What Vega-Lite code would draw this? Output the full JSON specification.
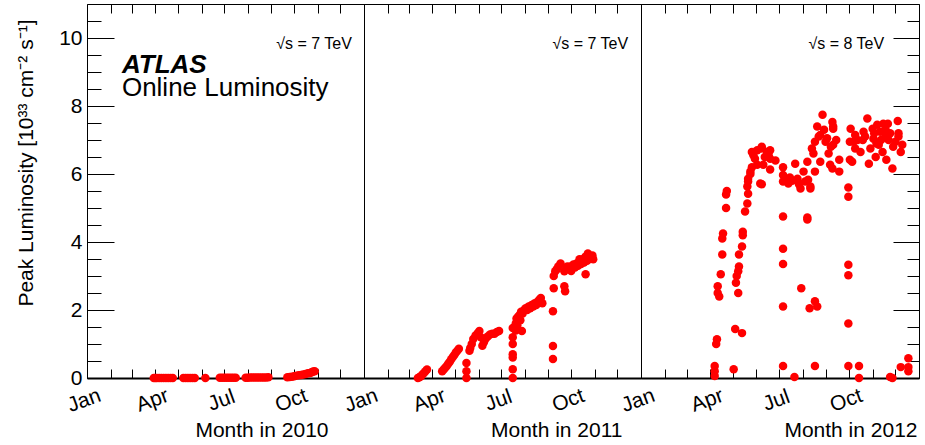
{
  "$schema": "https://vega.github.io/schema/vega-lite/v6.json",
  "background": "white",
  "padding": {"left": 15, "top": 3, "right": 6, "bottom": 2},
  "bounds": "flush",
  "spacing": 0,
  "config": {
    "view": {"stroke": "black", "strokeWidth": 1},
    "font": "Liberation Sans",
    "axis": {"labelFont": "Liberation Sans", "labelFontSize": 21, "labelColor": "black", "titleFont": "Liberation Sans", "titleFontSize": 21, "titleFontWeight": "normal", "titleColor": "black", "tickColor": "black", "domainColor": "black", "grid": false},
    "concat": {"spacing": 0}
  },
  "datasets": {
    "y2010": [
      {"date": "2010-03-30", "lumi": 0}, {"date": "2010-04-01", "lumi": 0}, {"date": "2010-04-03", "lumi": 0}, {"date": "2010-04-06", "lumi": 0}, {"date": "2010-04-09", "lumi": 0}, {"date": "2010-04-12", "lumi": 0}, {"date": "2010-04-15", "lumi": 0}, {"date": "2010-04-18", "lumi": 0}, {"date": "2010-04-21", "lumi": 0}, {"date": "2010-04-24", "lumi": 0},
      {"date": "2010-05-08", "lumi": 0}, {"date": "2010-05-11", "lumi": 0}, {"date": "2010-05-14", "lumi": 0}, {"date": "2010-05-17", "lumi": 0}, {"date": "2010-05-20", "lumi": 0}, {"date": "2010-05-23", "lumi": 0},
      {"date": "2010-06-06", "lumi": 0.001},
      {"date": "2010-06-25", "lumi": 0.005}, {"date": "2010-06-28", "lumi": 0.005}, {"date": "2010-07-01", "lumi": 0.006}, {"date": "2010-07-04", "lumi": 0.007}, {"date": "2010-07-07", "lumi": 0.008}, {"date": "2010-07-10", "lumi": 0.008}, {"date": "2010-07-13", "lumi": 0.01}, {"date": "2010-07-16", "lumi": 0.01},
      {"date": "2010-07-29", "lumi": 0.01}, {"date": "2010-08-01", "lumi": 0.01}, {"date": "2010-08-04", "lumi": 0.012}, {"date": "2010-08-07", "lumi": 0.012}, {"date": "2010-08-10", "lumi": 0.015}, {"date": "2010-08-13", "lumi": 0.015}, {"date": "2010-08-16", "lumi": 0.015}, {"date": "2010-08-19", "lumi": 0.016}, {"date": "2010-08-22", "lumi": 0.017}, {"date": "2010-08-25", "lumi": 0.018}, {"date": "2010-08-28", "lumi": 0.02},
      {"date": "2010-09-22", "lumi": 0.02}, {"date": "2010-09-25", "lumi": 0.03}, {"date": "2010-09-28", "lumi": 0.04}, {"date": "2010-10-01", "lumi": 0.05}, {"date": "2010-10-04", "lumi": 0.07}, {"date": "2010-10-07", "lumi": 0.08}, {"date": "2010-10-10", "lumi": 0.09}, {"date": "2010-10-13", "lumi": 0.1}, {"date": "2010-10-16", "lumi": 0.12}, {"date": "2010-10-19", "lumi": 0.14}, {"date": "2010-10-22", "lumi": 0.15}, {"date": "2010-10-24", "lumi": 0.17}, {"date": "2010-10-26", "lumi": 0.19}, {"date": "2010-10-28", "lumi": 0.2}
    ],
    "y2011": [
      {"date": "2011-03-13", "lumi": 0.0}, {"date": "2011-03-15", "lumi": 0.02}, {"date": "2011-03-17", "lumi": 0.05}, {"date": "2011-03-19", "lumi": 0.1}, {"date": "2011-03-21", "lumi": 0.15}, {"date": "2011-03-23", "lumi": 0.2}, {"date": "2011-03-25", "lumi": 0.25},
      {"date": "2011-04-14", "lumi": 0.2}, {"date": "2011-04-16", "lumi": 0.25}, {"date": "2011-04-18", "lumi": 0.3}, {"date": "2011-04-20", "lumi": 0.35}, {"date": "2011-04-22", "lumi": 0.42}, {"date": "2011-04-24", "lumi": 0.48}, {"date": "2011-04-26", "lumi": 0.55}, {"date": "2011-04-28", "lumi": 0.62}, {"date": "2011-04-30", "lumi": 0.68}, {"date": "2011-05-02", "lumi": 0.75}, {"date": "2011-05-04", "lumi": 0.8}, {"date": "2011-05-06", "lumi": 0.86},
      {"date": "2011-05-16", "lumi": 0.0}, {"date": "2011-05-16", "lumi": 0.2}, {"date": "2011-05-16", "lumi": 0.44},
      {"date": "2011-05-20", "lumi": 0.8}, {"date": "2011-05-21", "lumi": 0.88}, {"date": "2011-05-23", "lumi": 1.0}, {"date": "2011-05-25", "lumi": 1.15}, {"date": "2011-05-28", "lumi": 1.25}, {"date": "2011-05-31", "lumi": 1.32}, {"date": "2011-06-02", "lumi": 1.38}, {"date": "2011-06-04", "lumi": 1.2}, {"date": "2011-06-06", "lumi": 0.95}, {"date": "2011-06-08", "lumi": 1.05}, {"date": "2011-06-10", "lumi": 1.15}, {"date": "2011-06-13", "lumi": 1.22}, {"date": "2011-06-16", "lumi": 1.28}, {"date": "2011-06-19", "lumi": 1.3}, {"date": "2011-06-22", "lumi": 1.3}, {"date": "2011-06-25", "lumi": 1.35}, {"date": "2011-06-28", "lumi": 1.38},
      {"date": "2011-07-16", "lumi": 0.0}, {"date": "2011-07-16", "lumi": 0.26}, {"date": "2011-07-16", "lumi": 0.6}, {"date": "2011-07-16", "lumi": 0.7}, {"date": "2011-07-16", "lumi": 1.0}, {"date": "2011-07-16", "lumi": 1.2}, {"date": "2011-07-16", "lumi": 1.47},
      {"date": "2011-07-20", "lumi": 1.4}, {"date": "2011-07-20", "lumi": 1.6}, {"date": "2011-07-21", "lumi": 1.75}, {"date": "2011-07-22", "lumi": 1.55}, {"date": "2011-07-23", "lumi": 1.8}, {"date": "2011-07-25", "lumi": 1.85}, {"date": "2011-07-26", "lumi": 1.7}, {"date": "2011-07-27", "lumi": 1.95}, {"date": "2011-07-28", "lumi": 1.38}, {"date": "2011-07-29", "lumi": 1.9}, {"date": "2011-07-31", "lumi": 2.0}, {"date": "2011-08-02", "lumi": 2.05}, {"date": "2011-08-04", "lumi": 2.0}, {"date": "2011-08-06", "lumi": 2.1}, {"date": "2011-08-08", "lumi": 2.05}, {"date": "2011-08-10", "lumi": 2.15}, {"date": "2011-08-12", "lumi": 2.1}, {"date": "2011-08-14", "lumi": 2.2}, {"date": "2011-08-16", "lumi": 2.15}, {"date": "2011-08-18", "lumi": 2.25}, {"date": "2011-08-20", "lumi": 2.3}, {"date": "2011-08-22", "lumi": 2.35}, {"date": "2011-08-24", "lumi": 2.2},
      {"date": "2011-09-07", "lumi": 0.56}, {"date": "2011-09-07", "lumi": 0.94}, {"date": "2011-09-07", "lumi": 1.96}, {"date": "2011-09-08", "lumi": 2.64}, {"date": "2011-09-08", "lumi": 3.0},
      {"date": "2011-09-10", "lumi": 3.14}, {"date": "2011-09-12", "lumi": 3.2}, {"date": "2011-09-14", "lumi": 3.28}, {"date": "2011-09-17", "lumi": 3.37}, {"date": "2011-09-22", "lumi": 2.7}, {"date": "2011-09-23", "lumi": 2.55}, {"date": "2011-09-22", "lumi": 3.14}, {"date": "2011-09-24", "lumi": 3.2}, {"date": "2011-09-26", "lumi": 3.28}, {"date": "2011-09-30", "lumi": 3.28}, {"date": "2011-10-01", "lumi": 3.15}, {"date": "2011-10-04", "lumi": 3.34}, {"date": "2011-10-06", "lumi": 3.25}, {"date": "2011-10-08", "lumi": 3.37}, {"date": "2011-10-10", "lumi": 3.3}, {"date": "2011-10-12", "lumi": 3.49}, {"date": "2011-10-14", "lumi": 3.35}, {"date": "2011-10-16", "lumi": 3.49}, {"date": "2011-10-18", "lumi": 3.4}, {"date": "2011-10-20", "lumi": 3.05}, {"date": "2011-10-20", "lumi": 3.57}, {"date": "2011-10-22", "lumi": 3.45}, {"date": "2011-10-23", "lumi": 3.66}, {"date": "2011-10-25", "lumi": 3.5}, {"date": "2011-10-27", "lumi": 3.57}, {"date": "2011-10-29", "lumi": 3.6}, {"date": "2011-10-30", "lumi": 3.49}
    ],
    "y2012": [
      {"date": "2012-04-07", "lumi": 0.06}, {"date": "2012-04-07", "lumi": 0.2}, {"date": "2012-04-07", "lumi": 0.35}, {"date": "2012-04-09", "lumi": 1.0}, {"date": "2012-04-10", "lumi": 1.14}, {"date": "2012-04-11", "lumi": 2.7}, {"date": "2012-04-11", "lumi": 2.5}, {"date": "2012-04-13", "lumi": 2.4}, {"date": "2012-04-15", "lumi": 3.05}, {"date": "2012-04-17", "lumi": 3.63}, {"date": "2012-04-17", "lumi": 4.1}, {"date": "2012-04-18", "lumi": 4.25}, {"date": "2012-04-22", "lumi": 5.0}, {"date": "2012-04-22", "lumi": 5.4}, {"date": "2012-04-23", "lumi": 5.5},
      {"date": "2012-05-02", "lumi": 0.26}, {"date": "2012-05-04", "lumi": 1.44}, {"date": "2012-05-13", "lumi": 1.32}, {"date": "2012-05-05", "lumi": 2.8}, {"date": "2012-05-06", "lumi": 3.0}, {"date": "2012-05-08", "lumi": 3.14}, {"date": "2012-05-08", "lumi": 2.5}, {"date": "2012-05-09", "lumi": 3.28}, {"date": "2012-05-09", "lumi": 3.63}, {"date": "2012-05-13", "lumi": 3.87}, {"date": "2012-05-14", "lumi": 4.2}, {"date": "2012-05-14", "lumi": 4.3}, {"date": "2012-05-17", "lumi": 4.9}, {"date": "2012-05-20", "lumi": 5.13}, {"date": "2012-05-20", "lumi": 5.63}, {"date": "2012-05-21", "lumi": 5.42}, {"date": "2012-05-21", "lumi": 5.78}, {"date": "2012-05-21", "lumi": 5.86}, {"date": "2012-05-24", "lumi": 6.0}, {"date": "2012-05-24", "lumi": 6.07}, {"date": "2012-05-26", "lumi": 6.2}, {"date": "2012-05-26", "lumi": 6.65}, {"date": "2012-05-28", "lumi": 6.55}, {"date": "2012-05-30", "lumi": 6.45},
      {"date": "2012-06-02", "lumi": 6.7}, {"date": "2012-06-02", "lumi": 6.27}, {"date": "2012-06-06", "lumi": 5.72}, {"date": "2012-06-08", "lumi": 6.8}, {"date": "2012-06-08", "lumi": 6.75}, {"date": "2012-06-08", "lumi": 5.7}, {"date": "2012-06-10", "lumi": 6.27}, {"date": "2012-06-12", "lumi": 6.5}, {"date": "2012-06-15", "lumi": 6.65}, {"date": "2012-06-17", "lumi": 6.55}, {"date": "2012-06-19", "lumi": 6.13}, {"date": "2012-06-19", "lumi": 6.45}, {"date": "2012-06-19", "lumi": 6.7}, {"date": "2012-06-26", "lumi": 6.4},
      {"date": "2012-07-06", "lumi": 6.2}, {"date": "2012-07-06", "lumi": 5.97}, {"date": "2012-07-06", "lumi": 5.78}, {"date": "2012-07-06", "lumi": 4.75}, {"date": "2012-07-06", "lumi": 3.8}, {"date": "2012-07-06", "lumi": 3.35}, {"date": "2012-07-06", "lumi": 2.1}, {"date": "2012-07-06", "lumi": 0.35}, {"date": "2012-07-09", "lumi": 5.86}, {"date": "2012-07-13", "lumi": 5.72}, {"date": "2012-07-15", "lumi": 5.9}, {"date": "2012-07-18", "lumi": 5.8}, {"date": "2012-07-21", "lumi": 0.03}, {"date": "2012-07-22", "lumi": 6.3}, {"date": "2012-07-25", "lumi": 5.86}, {"date": "2012-07-27", "lumi": 5.7}, {"date": "2012-07-29", "lumi": 5.57}, {"date": "2012-07-30", "lumi": 2.64},
      {"date": "2012-08-02", "lumi": 6.07}, {"date": "2012-08-04", "lumi": 5.78}, {"date": "2012-08-07", "lumi": 6.36}, {"date": "2012-08-07", "lumi": 4.66}, {"date": "2012-08-07", "lumi": 4.72}, {"date": "2012-08-08", "lumi": 5.83}, {"date": "2012-08-10", "lumi": 2.05}, {"date": "2012-08-11", "lumi": 5.57}, {"date": "2012-08-11", "lumi": 5.63}, {"date": "2012-08-13", "lumi": 6.75}, {"date": "2012-08-15", "lumi": 6.6}, {"date": "2012-08-17", "lumi": 6.95}, {"date": "2012-08-17", "lumi": 6.07}, {"date": "2012-08-17", "lumi": 2.26}, {"date": "2012-08-17", "lumi": 0.35}, {"date": "2012-08-20", "lumi": 7.4}, {"date": "2012-08-20", "lumi": 2.1}, {"date": "2012-08-22", "lumi": 7.1}, {"date": "2012-08-24", "lumi": 7.15}, {"date": "2012-08-24", "lumi": 6.36}, {"date": "2012-08-27", "lumi": 7.74}, {"date": "2012-08-29", "lumi": 7.3}, {"date": "2012-08-31", "lumi": 6.95},
      {"date": "2012-09-02", "lumi": 7.05}, {"date": "2012-09-04", "lumi": 6.6}, {"date": "2012-09-06", "lumi": 6.27}, {"date": "2012-09-07", "lumi": 6.8}, {"date": "2012-09-09", "lumi": 7.53}, {"date": "2012-09-09", "lumi": 6.16}, {"date": "2012-09-10", "lumi": 7.4}, {"date": "2012-09-10", "lumi": 6.86}, {"date": "2012-09-10", "lumi": 7.33}, {"date": "2012-09-14", "lumi": 7.0}, {"date": "2012-09-18", "lumi": 6.42}, {"date": "2012-09-18", "lumi": 6.07},
      {"date": "2012-09-30", "lumi": 0.35}, {"date": "2012-09-30", "lumi": 1.6}, {"date": "2012-09-30", "lumi": 3.02}, {"date": "2012-09-30", "lumi": 3.33}, {"date": "2012-09-30", "lumi": 5.33}, {"date": "2012-09-30", "lumi": 5.6},
      {"date": "2012-10-02", "lumi": 6.42}, {"date": "2012-10-02", "lumi": 6.95}, {"date": "2012-10-03", "lumi": 7.33}, {"date": "2012-10-05", "lumi": 6.36}, {"date": "2012-10-07", "lumi": 6.95}, {"date": "2012-10-09", "lumi": 7.15}, {"date": "2012-10-09", "lumi": 6.75}, {"date": "2012-10-12", "lumi": 7.0}, {"date": "2012-10-14", "lumi": 0.35}, {"date": "2012-10-14", "lumi": 0.0}, {"date": "2012-10-16", "lumi": 6.65}, {"date": "2012-10-19", "lumi": 7.0}, {"date": "2012-10-20", "lumi": 7.24}, {"date": "2012-10-22", "lumi": 7.1}, {"date": "2012-10-25", "lumi": 7.63}, {"date": "2012-10-27", "lumi": 6.3}, {"date": "2012-10-29", "lumi": 6.75},
      {"date": "2012-11-01", "lumi": 7.33}, {"date": "2012-11-02", "lumi": 7.04}, {"date": "2012-11-03", "lumi": 7.2}, {"date": "2012-11-05", "lumi": 6.5}, {"date": "2012-11-06", "lumi": 6.9}, {"date": "2012-11-07", "lumi": 7.45}, {"date": "2012-11-09", "lumi": 6.86}, {"date": "2012-11-11", "lumi": 7.24}, {"date": "2012-11-12", "lumi": 7.0}, {"date": "2012-11-14", "lumi": 6.65}, {"date": "2012-11-15", "lumi": 7.48}, {"date": "2012-11-18", "lumi": 7.15}, {"date": "2012-11-18", "lumi": 7.3}, {"date": "2012-11-19", "lumi": 6.42}, {"date": "2012-11-21", "lumi": 7.48}, {"date": "2012-11-22", "lumi": 7.0}, {"date": "2012-11-24", "lumi": 7.2}, {"date": "2012-11-24", "lumi": 0.03}, {"date": "2012-11-27", "lumi": 6.16}, {"date": "2012-11-27", "lumi": 0.0}, {"date": "2012-11-28", "lumi": 6.8},
      {"date": "2012-12-01", "lumi": 6.95}, {"date": "2012-12-04", "lumi": 7.56}, {"date": "2012-12-05", "lumi": 7.1}, {"date": "2012-12-05", "lumi": 7.2}, {"date": "2012-12-08", "lumi": 6.65}, {"date": "2012-12-08", "lumi": 0.32}, {"date": "2012-12-10", "lumi": 6.86}, {"date": "2012-12-18", "lumi": 0.58}, {"date": "2012-12-18", "lumi": 0.32}, {"date": "2012-12-18", "lumi": 0.2}
    ]
  },
  "hconcat": [
    {
      "width": 277, "height": 374,
      "layer": [
        {
          "data": {"name": "y2010"},
          "mark": {"type": "point", "filled": true, "size": 72, "color": "#ff0000", "opacity": 1},
          "encoding": {
            "x": {"field": "date", "type": "temporal",
              "scale": {"type": "utc", "domain": [{"year": 2010, "month": 1, "date": 1, "utc": true}, {"year": 2011, "month": 1, "date": 1, "utc": true}]},
              "axis": {"orient": "bottom", "tickCount": {"interval": "month", "step": 1},
                "labelExpr": "utcmonth(datum.value) % 3 === 0 && utcyear(datum.value) === 2010 ? utcFormat(datum.value, '%b') : ''",
                "labelAngle": -20, "labelAlign": "center", "labelBaseline": "top", "labelPadding": 21, "labelOffset": -7,
                "labelOverlap": false, "labelFlush": false, "labelBound": false,
                "tickSize": -9, "domainWidth": 2,
                "title": "Month in 2010", "titleX": 241, "titleY": 58, "titleAlign": "right", "titleBaseline": "alphabetic"}},
            "y": {"field": "lumi", "type": "quantitative",
              "scale": {"domain": [0, 11], "nice": false},
              "axis": {"orient": "left", "values": [0, 0.5, 1, 1.5, 2, 2.5, 3, 3.5, 4, 4.5, 5, 5.5, 6, 6.5, 7, 7.5, 8, 8.5, 9, 9.5, 10, 10.5],
                "labelExpr": "datum.value % 2 === 0 ? format(datum.value, 'd') : ''",
                "tickSize": {"condition": {"test": "datum.value % 2 === 0", "value": -27}, "value": -14},
                "labelPadding": 32, "labelOverlap": false, "labelFlush": false, "domain": false,
                "title": "Peak Luminosity [10³³ cm⁻² s⁻¹]", "titleY": 15, "titleAlign": "right", "titlePadding": 22}}
          }
        },
        {
          "data": {"values": [{"t": "√s = 7 TeV"}]},
          "mark": {"type": "text", "fontSize": 16, "align": "right", "baseline": "alphabetic", "color": "black"},
          "encoding": {
            "x": {"datum": {"year": 2010, "month": 12, "date": 16, "utc": true}, "type": "temporal",
              "axis": {"orient": "top", "tickCount": {"interval": "month", "step": 1}, "labels": false, "tickSize": -9, "domain": false, "title": null}},
            "y": {"datum": 9.67, "type": "quantitative", "axis": null},
            "text": {"field": "t"}
          }
        },
        {
          "data": {"values": [{"t": "ATLAS"}]},
          "mark": {"type": "text", "fontSize": 26, "fontWeight": "bold", "fontStyle": "italic", "align": "left", "baseline": "alphabetic", "color": "black"},
          "encoding": {
            "x": {"datum": {"year": 2010, "month": 2, "date": 16, "utc": true}, "type": "temporal", "axis": null},
            "y": {"datum": 8.97, "type": "quantitative", "axis": null},
            "text": {"field": "t"}
          }
        },
        {
          "data": {"values": [{"t": "Online Luminosity"}]},
          "mark": {"type": "text", "fontSize": 26, "align": "left", "baseline": "alphabetic", "color": "black"},
          "encoding": {
            "x": {"datum": {"year": 2010, "month": 2, "date": 16, "utc": true}, "type": "temporal", "axis": null},
            "y": {"datum": 8.3, "type": "quantitative", "axis": null},
            "text": {"field": "t"}
          }
        }
      ],
      "resolve": {"axis": {"x": "independent", "y": "independent"}}
    },
    {
      "width": 277, "height": 374,
      "layer": [
        {
          "data": {"name": "y2011"},
          "mark": {"type": "point", "filled": true, "size": 72, "color": "#ff0000", "opacity": 1},
          "encoding": {
            "x": {"field": "date", "type": "temporal",
              "scale": {"type": "utc", "domain": [{"year": 2011, "month": 1, "date": 1, "utc": true}, {"year": 2012, "month": 1, "date": 1, "utc": true}]},
              "axis": {"orient": "bottom", "tickCount": {"interval": "month", "step": 1},
                "labelExpr": "utcmonth(datum.value) % 3 === 0 && utcyear(datum.value) === 2011 ? utcFormat(datum.value, '%b') : ''",
                "labelAngle": -20, "labelAlign": "center", "labelBaseline": "top", "labelPadding": 21, "labelOffset": -7,
                "labelOverlap": false, "labelFlush": false, "labelBound": false,
                "tickSize": -9, "domainWidth": 2,
                "title": "Month in 2011", "titleX": 258, "titleY": 58, "titleAlign": "right", "titleBaseline": "alphabetic"}},
            "y": {"field": "lumi", "type": "quantitative", "scale": {"domain": [0, 11], "nice": false}, "axis": null}
          }
        },
        {
          "data": {"values": [{"t": "√s = 7 TeV"}]},
          "mark": {"type": "text", "fontSize": 16, "align": "right", "baseline": "alphabetic", "color": "black"},
          "encoding": {
            "x": {"datum": {"year": 2011, "month": 12, "date": 15, "utc": true}, "type": "temporal",
              "axis": {"orient": "top", "tickCount": {"interval": "month", "step": 1}, "labels": false, "tickSize": -9, "domain": false, "title": null}},
            "y": {"datum": 9.67, "type": "quantitative", "axis": null},
            "text": {"field": "t"}
          }
        }
      ],
      "resolve": {"axis": {"x": "independent", "y": "independent"}}
    },
    {
      "width": 278, "height": 374,
      "layer": [
        {
          "data": {"name": "y2012"},
          "mark": {"type": "point", "filled": true, "size": 72, "color": "#ff0000", "opacity": 1},
          "encoding": {
            "x": {"field": "date", "type": "temporal",
              "scale": {"type": "utc", "domain": [{"year": 2012, "month": 1, "date": 1, "utc": true}, {"year": 2013, "month": 1, "date": 1, "utc": true}]},
              "axis": {"orient": "bottom", "tickCount": {"interval": "month", "step": 1},
                "labelExpr": "utcmonth(datum.value) % 3 === 0 && utcyear(datum.value) === 2012 ? utcFormat(datum.value, '%b') : ''",
                "labelAngle": -20, "labelAlign": "center", "labelBaseline": "top", "labelPadding": 21, "labelOffset": -7,
                "labelOverlap": false, "labelFlush": false, "labelBound": false,
                "tickSize": -9, "domainWidth": 2,
                "title": "Month in 2012", "titleX": 276, "titleY": 58, "titleAlign": "right", "titleBaseline": "alphabetic"}},
            "y": {"field": "lumi", "type": "quantitative", "scale": {"domain": [0, 11], "nice": false}, "axis": null}
          }
        },
        {
          "data": {"values": [{"t": "√s = 8 TeV"}]},
          "mark": {"type": "text", "fontSize": 16, "align": "right", "baseline": "alphabetic", "color": "black"},
          "encoding": {
            "x": {"datum": {"year": 2012, "month": 11, "date": 16, "utc": true}, "type": "temporal",
              "axis": {"orient": "top", "tickCount": {"interval": "month", "step": 1}, "labels": false, "tickSize": -9, "domain": false, "title": null}},
            "y": {"datum": 9.67, "type": "quantitative",
              "axis": {"orient": "right", "values": [0, 0.5, 1, 1.5, 2, 2.5, 3, 3.5, 4, 4.5, 5, 5.5, 6, 6.5, 7, 7.5, 8, 8.5, 9, 9.5, 10, 10.5],
                "labels": false, "domain": false, "title": null,
                "tickSize": {"condition": {"test": "datum.value % 2 === 0", "value": -26}, "value": -12}}},
            "text": {"field": "t"}
          }
        }
      ],
      "resolve": {"axis": {"x": "independent", "y": "independent"}}
    }
  ]
}
